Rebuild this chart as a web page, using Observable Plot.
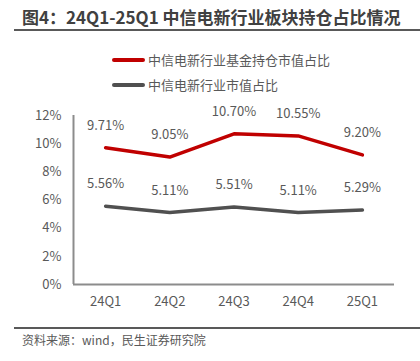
<!DOCTYPE html>
<html>
<head>
<meta charset="utf-8">
<script src="https://cdn.jsdelivr.net/npm/d3@7"></script>
<script src="https://cdn.jsdelivr.net/npm/@observablehq/plot@0.6"></script>
<style>
  html, body { margin: 0; padding: 0; background: #fff; }
  #wrap { position: relative; width: 420px; height: 361px; overflow: hidden; font-family: "Noto Sans CJK SC", "Noto Sans", sans-serif; }
  #title { position: absolute; left: 22px; top: 5px; font-size: 17px; font-weight: bold; color: #404040; white-space: nowrap; line-height: 24px; }
  .hr { position: absolute; left: 14px; width: 406px; height: 2px; background: #595959; }
  #legend { position: absolute; left: 112px; top: 47px; font-size: 13px; color: #595959; }
  .li { display: flex; align-items: center; height: 25px; white-space: nowrap; }
  .sw { width: 33px; height: 4px; border-radius: 2px; margin-right: 3px; }
  #source { position: absolute; left: 22px; top: 330px; font-size: 12px; color: #595959; white-space: nowrap; line-height: 20px; }
  #chart { position: absolute; left: 0; top: 0; }
</style>
</head>
<body>
<div id="wrap">
  <div id="chart"></div>
  <div id="title"></div>
  <div class="hr" style="top:29px"></div>
  <div id="legend"></div>
  <div class="hr" style="top:327px"></div>
  <div id="source"></div>
</div>
<script>
const title = "图4：24Q1-25Q1 中信电新行业板块持仓占比情况";
const source = "资料来源：wind，民生证券研究院";
const quarters = ["24Q1", "24Q2", "24Q3", "24Q4", "25Q1"];
const seriesNames = ["中信电新行业基金持仓市值占比", "中信电新行业市值占比"];
const fundShare = [9.71, 9.05, 10.70, 10.55, 9.20];
const marketShare = [5.56, 5.11, 5.51, 5.11, 5.29];
const yTicks = [0, 2, 4, 6, 8, 10, 12];
const colors = ["#C00000", "#505050"];

document.getElementById("title").textContent = title;
document.getElementById("source").textContent = source;
const legend = document.getElementById("legend");
seriesNames.forEach((n, i) => {
  const row = document.createElement("div");
  row.className = "li";
  const sw = document.createElement("div");
  sw.className = "sw";
  sw.style.background = colors[i];
  const t = document.createElement("span");
  t.textContent = n;
  row.appendChild(sw); row.appendChild(t);
  legend.appendChild(row);
});

const data = [];
[fundShare, marketShare].forEach((arr, s) => {
  arr.forEach((v, i) => data.push({ i, q: quarters[i], v, s: seriesNames[s] }));
});
const xIdx = quarters.map((q, i) => i);

const chart = Plot.plot({
  width: 420,
  height: 361,
  marginTop: 115,
  marginBottom: 77,
  marginLeft: 73,
  marginRight: 26,
  style: { fontFamily: "'Noto Sans CJK SC', 'Noto Sans', sans-serif", fontSize: "13px", color: "#595959", background: "transparent" },
  x: { type: "linear", domain: [-0.5, quarters.length - 0.5], label: null },
  y: { domain: [0, 12], label: null },
  color: { domain: seriesNames, range: colors },
  marks: [
    Plot.axisY({ ticks: yTicks, tickSize: 0, tickPadding: 12, tickFormat: d => d + "%", label: null, fontSize: 13 }),
    Plot.axisX({ ticks: xIdx, tickSize: 0, tickPadding: 12, tickFormat: i => quarters[i], label: null, fontSize: 13 }),
    Plot.ruleX([-0.5], { stroke: "#8c8c8c", strokeWidth: 2, y1: 0, y2: 12 }),
    Plot.ruleY([0], { stroke: "#8c8c8c", strokeWidth: 2 }),
    Plot.line(data, { x: "i", y: "v", z: "s", stroke: "s", strokeWidth: 3.5, strokeLinecap: "round", strokeLinejoin: "round" }),
    Plot.text(data, { x: "i", y: "v", text: d => d.v.toFixed(2) + "%", dy: -22, fill: "#595959", fontSize: 13 })
  ]
});
document.getElementById("chart").appendChild(chart);
</script>
</body>
</html>
